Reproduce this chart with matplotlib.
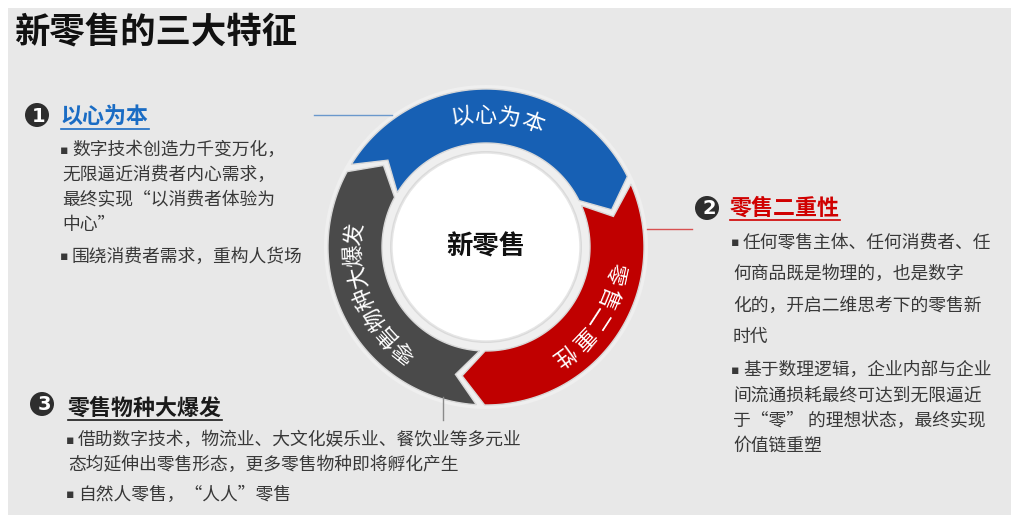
import numpy as np
import matplotlib.pyplot as plt
from matplotlib.patches import Polygon, Circle, Rectangle

plt.rcParams['font.family'] = ['Noto Sans CJK SC', 'DejaVu Sans']

# Ring segments: label, colour, tail angle, head angle (degrees, clockwise flow)
ring_labels = ['以心为本', '零售二重性', '零售物种大爆发']
ring_colors = ['#1760b4', '#c00000', '#4a4a4a']
ring_tails = [150, 25, -92]
ring_heads = [25, -92, -210]
label_centers = [85, -33, 203]
label_steps = [10.3, 10.6, 9.6]

center_text = '新零售'
page_title = '新零售的三大特征'

# Side panels
titles = ['以心为本', '零售二重性', '零售物种大爆发']
title_colors = ['#1a6cc4', '#d00000', '#1a1a1a']
bullets = [
    [['数字技术创造力千变万化，', '无限逼近消费者内心需求，', '最终实现“以消费者体验为', '中心”'],
     ['围绕消费者需求，重构人货场']],
    [['任何零售主体、任何消费者、任', '何商品既是物理的，也是数字', '化的，开启二维思考下的零售新', '时代'],
     ['基于数理逻辑，企业内部与企业', '间流通损耗最终可达到无限逼近', '于“零” 的理想状态，最终实现', '价值链重塑']],
    [['借助数字技术，物流业、大文化娱乐业、餐饮业等多元业', '态均延伸出零售形态，更多零售物种即将孵化产生'],
     ['自然人零售，“人人”零售']],
]

# layout
W, H = 1011, 515
cx, cy = 486, 247
r_out, r_in, r_core = 158, 104, 94
badge_pos = [(37, 115), (707, 208), (42, 404)]
title_pos = [(61, 117), (730, 208), (68, 408)]
text_x = [(72, 62), (743, 733), (78, 68)]
line_ys = [
    [[150, 175, 200, 225], [257]],
    [[243, 274, 306, 337], [370, 396, 421, 446]],
    [[440, 465], [495]],
]


def pt(theta, r):
    t = np.radians(theta)
    return cx + r * np.cos(t), cy - r * np.sin(t)


def arrow_shape(tail, head, gap=1.5, tip=10):
    t0, t1 = tail - gap, head + gap
    r_mid = (r_in + r_out) / 2
    outer = [pt(a, r_out) for a in np.linspace(t0, t1, 80)]
    inner = [pt(a, r_in) for a in np.linspace(t1, t0, 80)]
    return outer + [pt(t1 - tip, r_mid)] + inner + [pt(t0 - tip, r_mid)]


fig = plt.figure(figsize=(W / 100, H / 100), dpi=100)
ax = fig.add_axes([0, 0, 1, 1])
ax.set_xlim(0, W)
ax.set_ylim(H, 0)
ax.axis('off')

ax.add_patch(Rectangle((8, 8), W, H, facecolor='#e8e8e8', edgecolor='none'))
ax.text(14, 33, page_title, fontsize=25.5, fontweight='bold', color='#111111', va='center')

# ring halo and arrows
ax.add_patch(Circle((cx, cy), r_out + 4, facecolor='#efefef', edgecolor='none'))
for label, color, tail, head, c, step in zip(ring_labels, ring_colors, ring_tails, ring_heads,
                                           label_centers, label_steps):
    ax.add_patch(Polygon(arrow_shape(tail, head), closed=True, facecolor=color,
                         edgecolor='#d8d8d8', linewidth=1))
    n = len(label)
    r_text = (r_in + r_out) / 2 + 1
    for i, ch in enumerate(label):
        a = c + step * (n - 1) / 2 - step * i
        x, y = pt(a, r_text)
        ax.text(x, y, ch, fontsize=16, color='white', rotation=a - 90,
                ha='center', va='center', rotation_mode='anchor')

ax.add_patch(Circle((cx, cy), r_core + 2, facecolor='#dadada', edgecolor='none'))
ax.add_patch(Circle((cx, cy), r_core, facecolor='white', edgecolor='#e6e6e6', linewidth=1))
ax.text(cx, cy, center_text, fontsize=19, fontweight='bold', color='#111111',
        ha='center', va='center')

# connector lines
ax.plot([314, 392], [115, 115], color='#6a98cc', linewidth=1)
ax.plot([647, 692], [229, 229], color='#d85050', linewidth=1)
ax.plot([443, 443], [397, 420], color='#8a8a8a', linewidth=1)

fig.canvas.draw()
renderer = fig.canvas.get_renderer()
inv = ax.transData.inverted()

for k in range(3):
    bx, by = badge_pos[k]
    ax.add_patch(Circle((bx, by), 12, facecolor='#2e2e2e', edgecolor='none'))
    ax.text(bx + 2, by + 1, str(k + 1), fontsize=14, fontweight='bold', color='white',
            ha='center', va='center', family='DejaVu Sans')

    tx, ty = title_pos[k]
    t = ax.text(tx, ty, titles[k], fontsize=15.8, fontweight='bold', color=title_colors[k],
                va='center')
    bb = t.get_window_extent(renderer)
    (x0, _), (x1, _) = inv.transform([(bb.x0, bb.y0), (bb.x1, bb.y0)])
    ax.plot([x0, x1], [ty + 12, ty + 12], color=title_colors[k], linewidth=1.2)

    first_x, cont_x = text_x[k]
    for para, ys in zip(bullets[k], line_ys[k]):
        for j, (line, y) in enumerate(zip(para, ys)):
            if j == 0:
                ax.text(first_x - 8, y, '▪', fontsize=9, color='#383838', ha='center',
                        va='center', family='DejaVu Sans')
                ax.text(first_x, y, line, fontsize=12.8, color='#383838', va='center')
            else:
                ax.text(cont_x, y, line, fontsize=12.8, color='#383838', va='center')

fig.savefig('out.png', dpi=100)
